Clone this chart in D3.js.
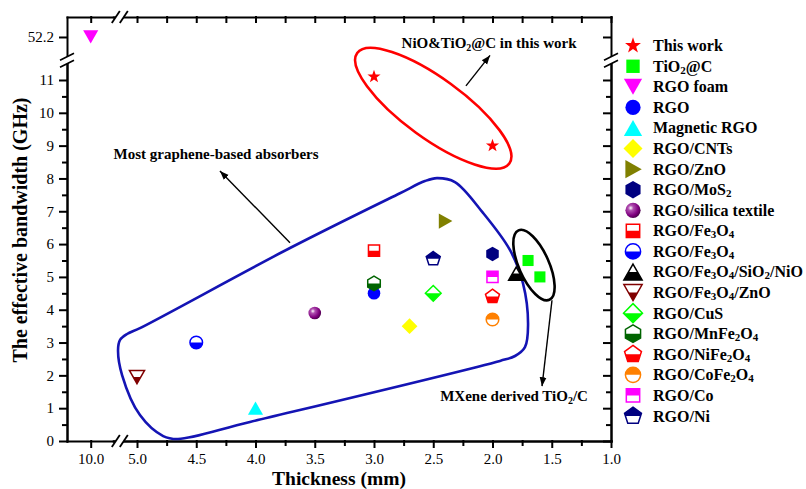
<!DOCTYPE html>
<html>
<head>
<meta charset="utf-8">
<script src="https://d3js.org/d3.v7.min.js"></script>
<style>
  body { margin: 0; background: #fff; }
  svg { font-family: "Liberation Serif", "Times New Roman", serif; }
  .axis path, .axis line { stroke: #000; stroke-width: 2; stroke-linecap: square; }
  .axis text { font-size: 15px; fill: #000; font-family: "Liberation Serif", serif; }
  .note { font-weight: bold; font-size: 15px; fill: #000; }
  .legend text { font-weight: bold; font-size: 16px; fill: #000; }
</style>
</head>
<body>
<svg id="chart" width="806" height="489"></svg>
<script>
// ---- data ----
const seriesNames = ["This work", "TiO2@C", "RGO foam", "RGO", "Magnetic RGO", "RGO/CNTs",
  "RGO/ZnO", "RGO/MoS2", "RGO/silica textile", "RGO/Fe3O4", "RGO/Fe3O4",
  "RGO/Fe3O4/SiO2/NiO", "RGO/Fe3O4/ZnO", "RGO/CuS", "RGO/MnFe2O4", "RGO/NiFe2O4",
  "RGO/CoFe2O4", "RGO/Co", "RGO/Ni"];

// thickness (mm) per series
const thickness = [[3.0, 2.0], [1.7, 1.6], [10.0], [3.0], [4.0], [2.7],
  [2.4], [2.0], [3.5], [3.0], [4.5],
  [1.8], [5.0], [2.5], [3.0], [2.0],
  [2.0], [2.0], [2.5]];

// effective bandwidth (GHz) per series
const bandwidth = [[11.1, 9.0], [5.5, 5.0], [52.2], [4.5], [1.0], [3.5],
  [6.7], [5.7], [3.9], [5.8], [3.0],
  [5.1], [1.95], [4.5], [4.8], [4.4],
  [3.7], [5.0], [5.55]];

const xMajor = [10.0, 5.0, 4.5, 4.0, 3.5, 3.0, 2.5, 2.0, 1.5, 1.0];
const xMinor = [4.75, 4.25, 3.75, 3.25, 2.75, 2.25, 1.75, 1.25];
const yMajor = [0, 1, 2, 3, 4, 5, 6, 7, 8, 9, 10, 11];
const yMinor = [0.5, 1.5, 2.5, 3.5, 4.5, 5.5, 6.5, 7.5, 8.5, 9.5, 10.5, 11.5];
const yUpperTicks = [52.2];

// hand-drawn annotation outline (thickness, bandwidth)
const grapheneOutline = [[5.084, 3.26], [4.975, 3.44], [3.709, 5.88], [2.781, 7.55], [2.570, 7.92],
  [2.469, 8.01], [2.317, 7.89], [2.080, 6.95], [1.853, 5.82], [1.743, 4.81], [1.700, 3.53],
  [1.726, 2.86], [1.810, 2.59], [1.937, 2.44], [4.047, 0.58], [4.654, 0.06], [4.779, 0.15],
  [4.975, 0.79], [5.126, 2.01], [5.160, 2.77], [5.143, 3.08]];

// marker look per series
const markerStyle = [
  {shape: "star", color: "#ff0000"},
  {shape: "square", color: "#00ff00"},
  {shape: "triDown", color: "#ff00ff"},
  {shape: "circle", color: "#0000ff"},
  {shape: "triUp", color: "#00ffff"},
  {shape: "diamond", color: "#ffff00"},
  {shape: "triRight", color: "#808000"},
  {shape: "hexagon", color: "#000080"},
  {shape: "sphere", color: "#800080"},
  {shape: "square", color: "#ff0000", half: "bottom"},
  {shape: "circle", color: "#0000ff", half: "bottom"},
  {shape: "triUp", color: "#000000", half: "bottom"},
  {shape: "triDown", color: "#800000", half: "bottom"},
  {shape: "diamond", color: "#00ff00", half: "bottom"},
  {shape: "hexagon", color: "#006400", half: "bottom"},
  {shape: "pentagon", color: "#ff0000", half: "bottom"},
  {shape: "circle", color: "#ff8000", half: "top"},
  {shape: "square", color: "#ff00ff", half: "top"},
  {shape: "pentagon", color: "#000080", half: "top"}
];

const svg = d3.select("#chart");

// ---- broken scales ----
const xL = d3.scaleLinear().domain([10.5, 9.5]).range([67, 114.4]);
const xR = d3.scaleLinear().domain([5.2, 1.0]).range([113.3, 611]);
const x = v => v > 7 ? xL(v) : xR(v);
const yL = d3.scaleLinear().domain([0, 11.6]).range([441, 60.3]);
const yU = d3.scaleLinear().domain([51.85, 52.5]).range([60.3, 17]);
const y = v => v > 30 ? yU(v) : yL(v);

const defs = svg.append("defs");
defs.append("clipPath").attr("id", "clip-bottom")
  .append("rect").attr("x", -20).attr("y", 0).attr("width", 40).attr("height", 20);
defs.append("clipPath").attr("id", "clip-top")
  .append("rect").attr("x", -20).attr("y", -20).attr("width", 40).attr("height", 20);
const grad = defs.append("radialGradient").attr("id", "sphere")
  .attr("cx", "35%").attr("cy", "35%").attr("r", "70%");
grad.append("stop").attr("offset", "0%").attr("stop-color", "#ffffff");
grad.append("stop").attr("offset", "25%").attr("stop-color", "#b050b0");
grad.append("stop").attr("offset", "70%").attr("stop-color", "#800080");
grad.append("stop").attr("offset", "100%").attr("stop-color", "#4a004a");
defs.append("marker").attr("id", "arrow")
  .attr("viewBox", "0 0 10 10").attr("refX", 10).attr("refY", 5)
  .attr("markerUnits", "userSpaceOnUse").attr("markerWidth", 9).attr("markerHeight", 9)
  .attr("orient", "auto")
  .append("path").attr("d", "M0,1.2L10,5L0,8.8Z").attr("fill", "#000");

// ---- axes ----
function styleAxis(g) { g.attr("class", "axis"); }

svg.append("g").attr("transform", "translate(0,441)").call(styleAxis)
  .call(d3.axisBottom(xR).tickValues(xMajor.filter(v => v < 7)).tickFormat(d3.format(".1f"))
    .tickSize(6).tickSizeOuter(0).tickPadding(6));
svg.append("g").attr("transform", "translate(0,441)").call(styleAxis)
  .call(d3.axisBottom(xR).tickValues(xMinor).tickFormat("").tickSize(4).tickSizeOuter(0));
svg.append("g").attr("transform", "translate(0,441)").call(styleAxis)
  .call(d3.axisBottom(xL).tickValues(xMajor.filter(v => v > 7)).tickFormat(d3.format(".1f"))
    .tickSize(6).tickSizeOuter(0).tickPadding(6));

svg.append("g").attr("transform", "translate(0,17)").call(styleAxis)
  .call(d3.axisTop(xR).tickValues(xMajor.filter(v => v < 7).concat(xMinor)).tickFormat("")
    .tickSize(-5).tickSizeOuter(0));
svg.append("g").attr("transform", "translate(0,17)").call(styleAxis)
  .call(d3.axisTop(xL).tickValues(xMajor.filter(v => v > 7)).tickFormat("")
    .tickSize(-5).tickSizeOuter(0));

svg.append("g").attr("transform", "translate(67,0)").call(styleAxis)
  .call(d3.axisLeft(yL).tickValues(yMajor).tickSize(7).tickSizeOuter(0).tickPadding(6));
svg.append("g").attr("transform", "translate(67,0)").call(styleAxis)
  .call(d3.axisLeft(yL).tickValues(yMinor).tickFormat("").tickSize(4).tickSizeOuter(0));
svg.append("g").attr("transform", "translate(67,0)").call(styleAxis)
  .call(d3.axisLeft(yU).tickValues(yUpperTicks).tickFormat(d3.format(".1f"))
    .tickSize(7).tickSizeOuter(0).tickPadding(6));

svg.append("g").attr("transform", "translate(611,0)").call(styleAxis)
  .call(d3.axisRight(yL).tickValues(yMajor).tickFormat("").tickSize(-7).tickSizeOuter(0));
svg.append("g").attr("transform", "translate(611,0)").call(styleAxis)
  .call(d3.axisRight(yL).tickValues(yMinor).tickFormat("").tickSize(-4).tickSizeOuter(0));
svg.append("g").attr("transform", "translate(611,0)").call(styleAxis)
  .call(d3.axisRight(yU).tickValues(yUpperTicks).tickFormat("").tickSize(-7).tickSizeOuter(0));

// axis break symbols
function breakH(cx, cy) {
  const g = svg.append("g");
  g.append("path").attr("d", `M${cx - 4},${cy + 6}L${cx + 4},${cy - 6}L${cx + 12},${cy - 6}L${cx + 4},${cy + 6}Z`)
    .attr("transform", `translate(-4,0)`).attr("fill", "#fff");
  g.append("line").attr("x1", cx - 8).attr("y1", cy + 6).attr("x2", cx).attr("y2", cy - 6)
    .attr("stroke", "#000").attr("stroke-width", 1.8);
  g.append("line").attr("x1", cx).attr("y1", cy + 6).attr("x2", cx + 8).attr("y2", cy - 6)
    .attr("stroke", "#000").attr("stroke-width", 1.8);
}
function breakV(cx, cy) {
  const g = svg.append("g");
  g.append("path").attr("d", `M${cx - 7},${cy}L${cx + 7},${cy - 7}L${cx + 7},${cy}L${cx - 7},${cy + 7}Z`)
    .attr("fill", "#fff");
  g.append("line").attr("x1", cx - 7).attr("y1", cy).attr("x2", cx + 7).attr("y2", cy - 7)
    .attr("stroke", "#000").attr("stroke-width", 1.8);
  g.append("line").attr("x1", cx - 7).attr("y1", cy + 7).attr("x2", cx + 7).attr("y2", cy)
    .attr("stroke", "#000").attr("stroke-width", 1.8);
}
const breakX = xR(5.145), breakY = yL(11.6);
breakH(breakX, 441);
breakH(breakX, 17);
breakV(67, breakY);
breakV(611, breakY);

// axis titles
svg.append("text").attr("x", 339).attr("y", 485).attr("text-anchor", "middle")
  .style("font-weight", "bold").style("font-size", "19.5px").text("Thickness (mm)");
svg.append("text").attr("transform", "translate(27,230) rotate(-90)").attr("text-anchor", "middle")
  .style("font-weight", "bold").style("font-size", "20px").text("The effective bandwidth (GHz)");

// ---- annotations ----
svg.append("path")
  .datum(grapheneOutline)
  .attr("d", d3.line().x(d => x(d[0])).y(d => y(d[1])).curve(d3.curveCatmullRomClosed.alpha(0.5)))
  .attr("fill", "none").attr("stroke", "#1414b4").attr("stroke-width", 2.6);

svg.append("ellipse")
  .attr("transform", `translate(${x(2.5)},${y(10.14)}) rotate(36)`)
  .attr("rx", 94).attr("ry", 30)
  .attr("fill", "none").attr("stroke", "#ff0000").attr("stroke-width", 2.6);

svg.append("ellipse")
  .attr("transform", `translate(${x(1.65)},${y(5.36)}) rotate(66)`)
  .attr("rx", 38).attr("ry", 15)
  .attr("fill", "none").attr("stroke", "#000").attr("stroke-width", 2.6);

const arrows = [[[2.224, 10.82], [2.021, 11.75]], [[3.709, 6.04], [4.30, 8.23]], [[1.498, 4.29], [1.582, 1.67]]];
arrows.forEach(a => {
  svg.append("line").attr("x1", x(a[0][0])).attr("y1", y(a[0][1]))
    .attr("x2", x(a[1][0])).attr("y2", y(a[1][1]))
    .attr("stroke", "#000").attr("stroke-width", 1.4).attr("marker-end", "url(#arrow)");
});

function richText(sel, str, subSize, subDy) {
  str.split(/(\d)/).filter(s => s.length).forEach((part, i, arr) => {
    const isSub = /\d/.test(part);
    const t = sel.append("tspan").text(part);
    if (isSub) t.style("font-size", subSize).attr("dy", subDy);
    else if (i > 0 && /\d/.test(arr[i - 1])) t.attr("dy", -subDy);
  });
}

svg.append("text").attr("class", "note").attr("x", x(4.333)).attr("y", y(8.59))
  .attr("text-anchor", "middle").text("Most graphene-based absorbers");
richText(svg.append("text").attr("class", "note").attr("x", x(2.029)).attr("y", y(11.97))
  .attr("text-anchor", "middle"), "NiO&TiO2@C in this work", "10px", 3);
richText(svg.append("text").attr("class", "note").attr("x", x(1.818)).attr("y", y(1.23))
  .attr("text-anchor", "middle"), "MXene derived TiO2/C", "10px", 3);

// ---- markers ----
function poly(n, r, start) {
  return "M" + d3.range(n).map(k => {
    const a = (start + k * 360 / n) * Math.PI / 180;
    return [r * Math.cos(a), r * Math.sin(a)].join(",");
  }).join("L") + "Z";
}
function shapePath(shape, s) {
  switch (shape) {
    case "square": { const h = 0.88 * s; return `M${-h},${-h}H${h}V${h}H${-h}Z`; }
    case "circle": case "sphere":
      return `M${-s},0A${s},${s} 0 1,0 ${s},0A${s},${s} 0 1,0 ${-s},0Z`;
    case "triUp": { const w = 1.2 * s, h = 1.05 * s; return `M0,${-h}L${w},${h}L${-w},${h}Z`; }
    case "triDown": { const w = 1.2 * s, h = 1.05 * s; return `M0,${h}L${w},${-h}L${-w},${-h}Z`; }
    case "triRight": return `M${1.15 * s},0L${-1.0 * s},${-1.2 * s}L${-1.0 * s},${1.2 * s}Z`;
    case "diamond": { const d = 1.25 * s; return `M0,${-d}L${d},0L0,${d}L${-d},0Z`; }
    case "hexagon": return poly(6, 1.15 * s, -90);
    case "pentagon": return poly(5, 1.17 * s, -90);
    case "star": {
      const R = 1.1 * s, r = R * 0.40;
      return "M" + d3.range(10).map(k => {
        const a = (-90 + k * 36) * Math.PI / 180, rr = k % 2 ? r : R;
        return [rr * Math.cos(a), rr * Math.sin(a)].join(",");
      }).join("L") + "Z";
    }
  }
}
function drawMarker(g, st, s) {
  const d = shapePath(st.shape, s);
  if (st.shape === "sphere") {
    g.append("path").attr("d", d).attr("fill", "url(#sphere)");
  } else if (st.half) {
    g.append("path").attr("d", d).attr("fill", "#fff");
    g.append("path").attr("d", d).attr("fill", st.color).attr("clip-path", `url(#clip-${st.half})`);
    g.append("path").attr("d", d).attr("fill", "none").attr("stroke", st.color).attr("stroke-width", 1.5);
  } else {
    g.append("path").attr("d", d).attr("fill", st.color);
  }
}

const points = [];
seriesNames.forEach((name, i) => {
  thickness[i].forEach((t, j) => points.push({i: i, t: t, b: bandwidth[i][j]}));
});
svg.append("g").selectAll("g").data(points).join("g")
  .attr("transform", d => `translate(${x(d.t)},${y(d.b)})`)
  .each(function (d) { drawMarker(d3.select(this), markerStyle[d.i], 6.3); });

// ---- legend ----
const legend = svg.append("g").attr("class", "legend");
const legendY = d3.scaleLinear().domain([0, seriesNames.length - 1]).range([45.7, 416]);
seriesNames.forEach((name, i) => {
  const row = legend.append("g").attr("transform", `translate(633,${legendY(i)})`);
  drawMarker(row, markerStyle[i], 7.6);
  richText(row.append("text").attr("x", 20).attr("y", 5.5), name, "11px", 2);
});
</script>
</body>
</html>
